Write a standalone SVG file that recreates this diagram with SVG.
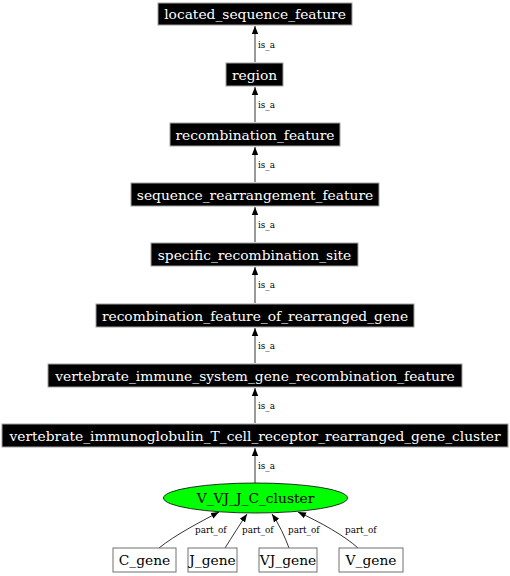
<svg xmlns="http://www.w3.org/2000/svg" width="510" height="576" viewBox="0 0 510 576">
<style>
.bx{fill:#000;stroke:#a0a0a0;stroke-width:1}
.wb{fill:#fff;stroke:#707070;stroke-width:1}
.t{font-family:"DejaVu Serif",serif;font-size:13.8px;text-anchor:middle}
.w{fill:#fff}
.el{font-family:"DejaVu Serif",serif;font-size:8.8px;fill:#000}
.e{fill:none;stroke:#000;stroke-width:0.8}
</style>
<defs>
<marker id="ah" viewBox="0 0 10 10" refX="10" refY="5" markerWidth="8" markerHeight="8" markerUnits="userSpaceOnUse" orient="auto">
<path d="M0,1 L10,5 L0,9 Z" fill="#000"/>
</marker>
</defs>
<g id="connectors">
<path class="e" d="M255,62 L255,26" marker-end="url(#ah)"/>
<text class="el" x="258" y="47.5">is_a</text>
<path class="e" d="M255,122 L255,87" marker-end="url(#ah)"/>
<text class="el" x="258" y="107.5">is_a</text>
<path class="e" d="M255,182 L255,147" marker-end="url(#ah)"/>
<text class="el" x="258" y="167.5">is_a</text>
<path class="e" d="M255,242 L255,207" marker-end="url(#ah)"/>
<text class="el" x="258" y="227.5">is_a</text>
<path class="e" d="M255,303 L255,267" marker-end="url(#ah)"/>
<text class="el" x="258" y="287.5">is_a</text>
<path class="e" d="M255,363 L255,328" marker-end="url(#ah)"/>
<text class="el" x="258" y="348.5">is_a</text>
<path class="e" d="M255,423 L255,388" marker-end="url(#ah)"/>
<text class="el" x="258" y="408.5">is_a</text>
<path class="e" d="M255,483 L255,448" marker-end="url(#ah)"/>
<text class="el" x="258" y="468.5">is_a</text>
<path class="e" d="M159,548 C175,535 200,522 219,512" marker-end="url(#ah)"/>
<text class="el" x="195" y="532.5">part_of</text>
<path class="e" d="M225,548 C232,537 240,524 247,514" marker-end="url(#ah)"/>
<text class="el" x="242" y="532.5">part_of</text>
<path class="e" d="M289,548 C285,537 279,524 272,514" marker-end="url(#ah)"/>
<text class="el" x="288" y="532.5">part_of</text>
<path class="e" d="M358,548 C345,536 320,522 298,512" marker-end="url(#ah)"/>
<text class="el" x="345" y="532.5">part_of</text>
</g>
<g id="located_sequence_feature"><rect class="bx" x="158" y="3" width="194" height="22"/><text class="t w" x="255" y="19">located_sequence_feature</text></g>
<g id="region"><rect class="bx" x="226" y="63" width="57" height="23"/><text class="t w" x="254.5" y="79.5">region</text></g>
<g id="recombination_feature"><rect class="bx" x="170" y="123" width="170" height="23"/><text class="t w" x="255" y="139.5">recombination_feature</text></g>
<g id="sequence_rearrangement_feature"><rect class="bx" x="131" y="183" width="248" height="23"/><text class="t w" x="255" y="199.5">sequence_rearrangement_feature</text></g>
<g id="specific_recombination_site"><rect class="bx" x="151" y="243" width="207" height="23"/><text class="t w" x="254.5" y="259.5">specific_recombination_site</text></g>
<g id="recombination_feature_of_rearranged_gene"><rect class="bx" x="96" y="304" width="318" height="23"/><text class="t w" x="255" y="320.5">recombination_feature_of_rearranged_gene</text></g>
<g id="vertebrate_immune_system_gene_recombination_feature"><rect class="bx" x="48" y="364" width="414" height="23"/><text class="t w" x="255" y="380.5">vertebrate_immune_system_gene_recombination_feature</text></g>
<g id="vertebrate_immunoglobulin_T_cell_receptor_rearranged_gene_cluster"><rect class="bx" x="2" y="424" width="506" height="23"/><text class="t w" x="255" y="440.5">vertebrate_immunoglobulin_T_cell_receptor_rearranged_gene_cluster</text></g>
<g id="V_VJ_J_C_cluster"><ellipse cx="255.5" cy="498" rx="92" ry="15" fill="#00ff00" stroke="#000" stroke-width="0.8"/><text class="t" x="255.5" y="503">V_VJ_J_C_cluster</text></g>
<g id="C_gene"><rect class="wb" x="113" y="548" width="63" height="24"/><text class="t" x="144.5" y="565">C_gene</text></g>
<g id="J_gene"><rect class="wb" x="188" y="548" width="49" height="24"/><text class="t" x="212.5" y="565">J_gene</text></g>
<g id="VJ_gene"><rect class="wb" x="259" y="548" width="58" height="24"/><text class="t" x="288" y="565">VJ_gene</text></g>
<g id="V_gene"><rect class="wb" x="339" y="548" width="64" height="24"/><text class="t" x="371" y="565">V_gene</text></g>
</svg>
